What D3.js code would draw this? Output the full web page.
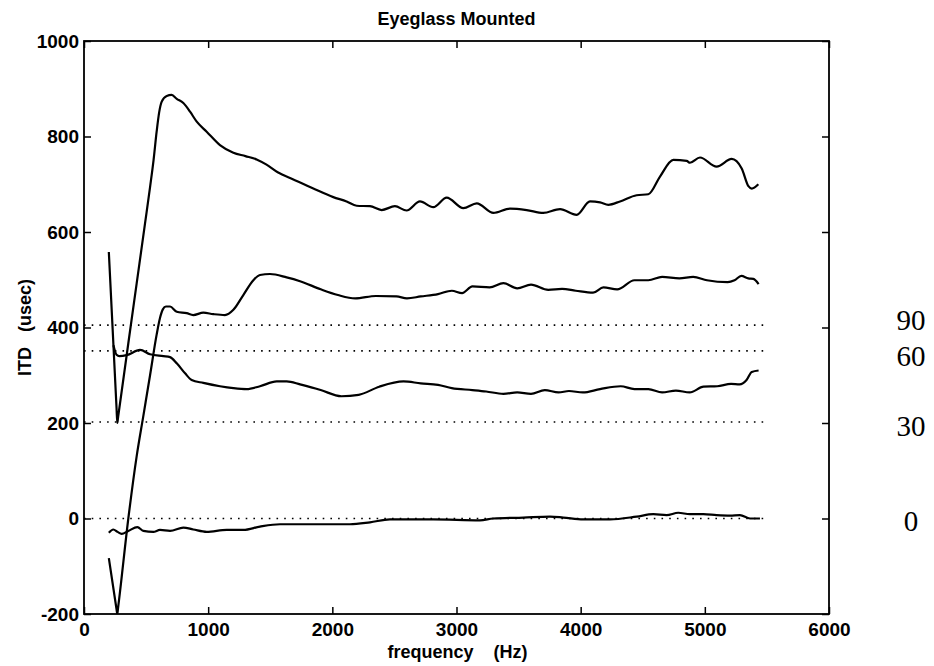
<!DOCTYPE html>
<html>
<head>
<meta charset="utf-8">
<script src="https://cdn.jsdelivr.net/npm/d3@7"></script>
<style>
  html, body { margin: 0; padding: 0; background: #fff; }
  svg { display: block; }
  .axis text { font-family: "Liberation Sans", Arial, sans-serif; font-size: 19px; font-weight: bold; fill: #000; }
  .axis line { stroke: #000; stroke-width: 1.5; }
  .axis path { display: none; }
</style>
</head>
<body>
<svg id="chart" width="934" height="666"></svg>
<script>
// ---- data (frequency in Hz, ITD in usec) ----
const titleText = "Eyeglass Mounted";
const xLabel = "frequency    (Hz)";
const yLabel = "ITD   (usec)";
const xTicks = [0, 1000, 2000, 3000, 4000, 5000, 6000];
const yTicks = [-200, 0, 200, 400, 600, 800, 1000];

// reference (dotted) ITD levels for each azimuth, and their labels
const refAngles = ["90", "60", "30", "0"];
const refItd = [405, 351, 202, 0];
const refLabelItd = [416, 341, 195, -4];
const refEndFreq = 5500;

const series90 = [[200,558],[262,232],[268,200],[275,213],[357,367],[424,492],[491,617],[532,694],[560,750],[585,810],[605,850],[626,873],[666,885],[706,887],[747,879],[800,870],[854,852],[908,831],[988,810],[1095,782],[1203,766],[1300,759],[1390,752],[1470,741],[1560,725],[1686,710],[1847,691],[2008,673],[2115,664],[2196,655],[2303,654],[2397,646],[2504,654],[2598,645],[2706,664],[2813,652],[2921,672],[3055,650],[3163,660],[3297,640],[3431,649],[3565,646],[3699,640],[3834,648],[3968,636],[4075,664],[4156,662],[4223,657],[4317,664],[4451,677],[4545,679],[4639,716],[4746,751],[4854,749],[4880,745],[4961,756],[5095,737],[5216,753],[5297,733],[5351,696],[5378,691],[5431,700]];

const series60 = [[200,-83],[262,-190],[268,-200],[274,-188],[357,0],[424,130],[478,215],[532,300],[585,385],[612,420],[635,438],[660,444],[693,444],[747,433],[827,430],[880,426],[961,431],[1041,428],[1135,426],[1203,437],[1283,468],[1364,499],[1417,510],[1498,512],[1632,505],[1740,497],[1906,480],[2045,468],[2184,461],[2351,466],[2517,465],[2601,461],[2712,465],[2851,470],[2962,477],[3045,472],[3128,486],[3267,484],[3378,493],[3489,482],[3600,490],[3739,479],[3850,481],[3961,477],[4100,473],[4183,484],[4294,480],[4433,499],[4545,499],[4656,506],[4795,503],[4906,506],[5017,499],[5184,495],[5239,499],[5294,508],[5350,503],[5391,502],[5433,491]];

const series30 = [[237,363],[262,343],[285,340],[344,342],[451,353],[532,344],[639,340],[693,338],[747,325],[814,304],[867,290],[961,284],[1095,277],[1203,273],[1310,271],[1417,277],[1552,287],[1632,287],[1740,281],[1906,269],[2073,256],[2212,259],[2378,276],[2573,287],[2712,283],[2851,280],[2962,273],[3128,269],[3239,266],[3378,261],[3489,264],[3600,261],[3711,269],[3822,264],[3906,267],[4017,264],[4156,271],[4322,277],[4433,271],[4545,271],[4656,264],[4767,268],[4878,264],[4989,276],[5100,277],[5211,282],[5280,281],[5336,290],[5378,307],[5433,310]];

const series0 = [[200,-30],[236,-23],[270,-28],[303,-32],[357,-26],[430,-18],[478,-26],[558,-28],[612,-24],[693,-26],[800,-19],[880,-23],[988,-28],[1149,-24],[1283,-24],[1417,-17],[1579,-12],[1740,-12],[1954,-12],[2142,-12],[2303,-8],[2464,-2],[2813,-2],[3189,-4],[3297,0],[3538,2],[3753,4],[3860,2],[4021,-2],[4236,-2],[4451,4],[4585,9],[4692,7],[4786,12],[4880,9],[4988,9],[5095,7],[5203,6],[5283,7],[5364,0],[5444,0]];

const allSeries = [series90, series60, series30, series0];

// ---- layout ----
const W = 934, H = 666;
const plot = { left: 84, right: 829, top: 41, bottom: 614 };

const svg = d3.select("#chart");
const x = d3.scaleLinear().domain([0, 6000]).range([plot.left, plot.right]);
const y = d3.scaleLinear().domain([-200, 1000]).range([plot.bottom, plot.top]);

// clip
svg.append("clipPath").attr("id", "clip")
  .append("rect").attr("x", plot.left).attr("y", plot.top)
  .attr("width", plot.right - plot.left).attr("height", plot.bottom - plot.top);

// dotted reference lines
svg.append("g").selectAll("line").data(refItd).join("line")
  .attr("x1", x(0)).attr("x2", x(refEndFreq))
  .attr("y1", d => y(d)).attr("y2", d => y(d))
  .attr("stroke", "#000").attr("stroke-width", 1.6)
  .attr("stroke-dasharray", "1.6 6.1");

// curves
const line = d3.line().x(d => x(d[0])).y(d => y(d[1])).curve(d3.curveMonotoneX);
svg.append("g").attr("clip-path", "url(#clip)")
  .selectAll("path").data(allSeries).join("path")
  .attr("d", line).attr("fill", "none")
  .attr("stroke", "#000").attr("stroke-width", 2.2)
  .attr("stroke-linejoin", "round");

// axes
svg.append("g").attr("class", "axis")
  .attr("transform", `translate(0,${plot.bottom})`)
  .call(d3.axisBottom(x).tickValues(xTicks).tickSize(-7).tickSizeOuter(0).tickPadding(9).tickFormat(d => String(d)));
svg.append("g").attr("class", "axis")
  .attr("transform", `translate(0,${plot.top})`)
  .call(d3.axisTop(x).tickValues(xTicks).tickSize(-7).tickSizeOuter(0).tickFormat(""));
svg.append("g").attr("class", "axis")
  .attr("transform", `translate(${plot.left},0)`)
  .call(d3.axisLeft(y).tickValues(yTicks).tickSize(-7).tickSizeOuter(0).tickPadding(5).tickFormat(d => String(d)));
svg.append("g").attr("class", "axis")
  .attr("transform", `translate(${plot.right},0)`)
  .call(d3.axisRight(y).tickValues(yTicks).tickSize(-7).tickSizeOuter(0).tickFormat(""));

// frame
svg.append("rect")
  .attr("x", plot.left).attr("y", plot.top)
  .attr("width", plot.right - plot.left).attr("height", plot.bottom - plot.top)
  .attr("fill", "none").attr("stroke", "#000").attr("stroke-width", 1.8);

// title & labels
const sans = '"Liberation Sans", Arial, sans-serif';
svg.append("text").text(titleText)
  .attr("x", (plot.left + plot.right) / 2).attr("y", 25)
  .attr("text-anchor", "middle")
  .style("font-family", sans).style("font-size", "18px").style("font-weight", "bold");

svg.append("text").text(xLabel)
  .attr("x", (plot.left + plot.right) / 2 + 1).attr("y", 658)
  .attr("text-anchor", "middle").style("white-space", "pre")
  .style("font-family", sans).style("font-size", "18px").style("font-weight", "bold");

svg.append("text").text(yLabel)
  .attr("transform", `translate(31,${(plot.top + plot.bottom) / 2}) rotate(-90)`)
  .attr("text-anchor", "middle").style("white-space", "pre")
  .style("font-family", sans).style("font-size", "18px").style("font-weight", "bold");

// angle labels on the right
svg.append("g").selectAll("text").data(refAngles).join("text")
  .text(d => d)
  .attr("x", 911).attr("y", (d, i) => y(refLabelItd[i]))
  .attr("dy", "0.35em")
  .attr("text-anchor", "middle")
  .style("font-family", '"Liberation Serif", "Times New Roman", serif')
  .style("font-size", "29px");
</script>
</body>
</html>
